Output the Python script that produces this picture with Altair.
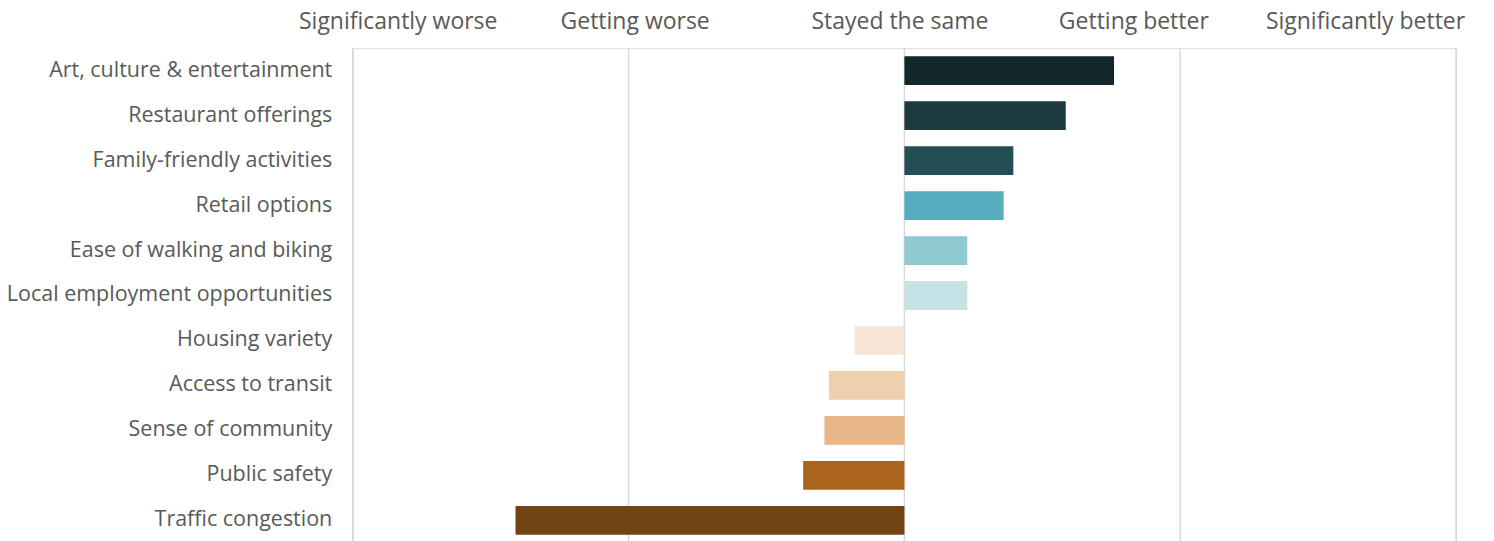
import altair as alt
import pandas as pd

categories = [
    "Art, culture & entertainment",
    "Restaurant offerings",
    "Family-friendly activities",
    "Retail options",
    "Ease of walking and biking",
    "Local employment opportunities",
    "Housing variety",
    "Access to transit",
    "Sense of community",
    "Public safety",
    "Traffic congestion",
]
scores = [0.76, 0.585, 0.395, 0.36, 0.228, 0.228, -0.181, -0.274, -0.29, -0.367, -1.41]
colors = [
    "#13262a", "#1c3a40", "#234e56", "#58adbc", "#91c9d2", "#c5e3e7",
    "#f7e5d5", "#f0cfac", "#e9b687", "#ab6420", "#724414",
]
header_labels = ["Significantly worse", "Getting worse", "Stayed the same",
                 "Getting better", "Significantly better"]
header_pos = [-1.837, -0.978, -0.018, 0.83, 1.67]
grid_values = [-2, -1, 0, 1, 2]

df = pd.DataFrame({"category": categories, "score": scores})
grid_df = pd.DataFrame({"score": grid_values})

label_expr = " : ".join(
    f"abs(datum.value - ({p})) < 0.001 ? '{l}'" for p, l in zip(header_pos, header_labels)
) + " : ''"

FONT = "Open Sans"
TXT = "#595959"

xscale = alt.Scale(domain=[-2, 2], nice=False, zero=False)
xaxis = alt.Axis(
    orient="top", values=header_pos, labelExpr=label_expr,
    ticks=False, domain=False, grid=False, labelPadding=15,
    labelFontSize=23, labelFont=FONT, labelColor=TXT, labelLimit=400,
    labelOverlap=False, labelFlush=False, title=None,
)

grid = alt.Chart(grid_df).mark_rule(color="#d9d9d9", strokeWidth=1.5).encode(
    x=alt.X("score:Q", scale=xscale, axis=xaxis, title=None)
)

bars = alt.Chart(df).mark_bar().encode(
    y=alt.Y(
        "category:N",
        sort=categories,
        title=None,
        scale=alt.Scale(paddingInner=0.36, paddingOuter=0.18),
        axis=alt.Axis(
            ticks=False, domain=False, labelPadding=21, labelFontSize=21.5,
            labelFont=FONT, labelColor=TXT, labelLimit=400, grid=False,
        ),
    ),
    x=alt.X("score:Q", scale=xscale, axis=xaxis, title=None),
    color=alt.Color(
        "category:N",
        scale=alt.Scale(domain=categories, range=colors),
        legend=None,
    ),
)

chart = alt.layer(grid, bars).properties(
    width=1104,
    height=495,
    autosize=alt.AutoSizeParams(type="none"),
    padding={"left": 345, "top": 40, "right": 30, "bottom": 0},
).configure_view(strokeWidth=0, stroke="transparent").configure_axis(
    domain=False, ticks=False
).configure(background="white")

chart.save("out.html", embed_options={"renderer": "svg", "actions": False})
